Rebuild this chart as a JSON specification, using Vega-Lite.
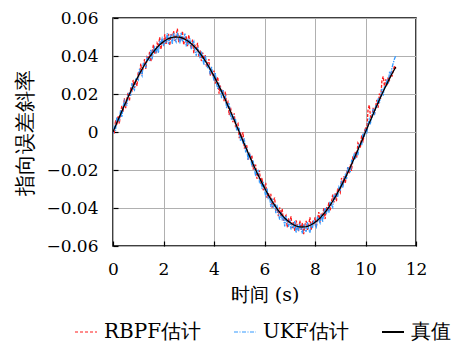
{
  "$schema": "https://vega.github.io/schema/vega-lite/v6.json",
  "width": 303,
  "height": 228,
  "autosize": "none",
  "padding": {"left": 113, "top": 18, "right": 41, "bottom": 103},
  "background": "white",
  "config": {
    "view": {"stroke": "#000000", "strokeWidth": 1.5},
    "font": "DejaVu Serif",
    "axis": {
      "labelFont": "DejaVu Serif",
      "titleFont": "DejaVu Serif",
      "labelFontSize": 17,
      "titleFontSize": 19,
      "labelColor": "#000000",
      "titleColor": "#000000",
      "titleFontWeight": "normal",
      "labelOverlap": false,
      "labelFlush": false,
      "domain": false,
      "grid": true,
      "gridColor": "#b0b0b0",
      "gridWidth": 1,
      "tickColor": "#000000",
      "tickSize": -5,
      "tickWidth": 1.2
    },
    "legend": {
      "labelFont": "DejaVu Serif",
      "labelFontSize": 20,
      "labelColor": "#000000"
    }
  },
  "data": {
    "values": [
      {"t":0.00,"truth":0,"rbpf":0.0012,"ukf":-0.0009},
      {"t":0.05,"truth":0.00157,"rbpf":-0.00093,"ukf":0.00337},
      {"t":0.10,"truth":0.00314,"rbpf":0.00624,"ukf":0.00074},
      {"t":0.15,"truth":0.00471,"rbpf":0.00391,"ukf":0.00761},
      {"t":0.20,"truth":0.00627,"rbpf":0.00847,"ukf":0.00597},
      {"t":0.25,"truth":0.00782,"rbpf":0.00442,"ukf":0.00592},
      {"t":0.30,"truth":0.00937,"rbpf":0.00997,"ukf":0.01157},
      {"t":0.35,"truth":0.01091,"rbpf":0.01381,"ukf":0.00781},
      {"t":0.40,"truth":0.01243,"rbpf":0.01073,"ukf":0.01343},
      {"t":0.45,"truth":0.01395,"rbpf":0.01775,"ukf":0.01645},
      {"t":0.50,"truth":0.01545,"rbpf":0.01255,"ukf":0.01425},
      {"t":0.55,"truth":0.01694,"rbpf":0.01734,"ukf":0.01414},
      {"t":0.60,"truth":0.01841,"rbpf":0.02101,"ukf":0.02011},
      {"t":0.65,"truth":0.01986,"rbpf":0.01626,"ukf":0.02046},
      {"t":0.70,"truth":0.02129,"rbpf":0.02279,"ukf":0.01899},
      {"t":0.75,"truth":0.02270,"rbpf":0.02180,"ukf":0.02570},
      {"t":0.80,"truth":0.02409,"rbpf":0.02739,"ukf":0.02309},
      {"t":0.85,"truth":0.02545,"rbpf":0.02325,"ukf":0.02215},
      {"t":0.90,"truth":0.02679,"rbpf":0.02769,"ukf":0.02819},
      {"t":0.95,"truth":0.02810,"rbpf":0.02420,"ukf":0.02830},
      {"t":1.00,"truth":0.02939,"rbpf":0.03179,"ukf":0.02739},
      {"t":1.05,"truth":0.03065,"rbpf":0.02955,"ukf":0.03325},
      {"t":1.10,"truth":0.03187,"rbpf":0.03607,"ukf":0.03117},
      {"t":1.15,"truth":0.03307,"rbpf":0.03037,"ukf":0.02967},
      {"t":1.20,"truth":0.03423,"rbpf":0.03453,"ukf":0.03613},
      {"t":1.25,"truth":0.03536,"rbpf":0.03836,"ukf":0.03616},
      {"t":1.30,"truth":0.03645,"rbpf":0.03325,"ukf":0.03375},
      {"t":1.35,"truth":0.03751,"rbpf":0.03931,"ukf":0.03981},
      {"t":1.40,"truth":0.03853,"rbpf":0.03803,"ukf":0.03813},
      {"t":1.45,"truth":0.03951,"rbpf":0.04221,"ukf":0.03771},
      {"t":1.50,"truth":0.04045,"rbpf":0.03695,"ukf":0.04325},
      {"t":1.55,"truth":0.04135,"rbpf":0.04245,"ukf":0.03815},
      {"t":1.60,"truth":0.04222,"rbpf":0.04582,"ukf":0.04312},
      {"t":1.65,"truth":0.04304,"rbpf":0.04164,"ukf":0.04464},
      {"t":1.70,"truth":0.04382,"rbpf":0.04102,"ukf":0.04132},
      {"t":1.75,"truth":0.04455,"rbpf":0.04665,"ukf":0.04505},
      {"t":1.80,"truth":0.04524,"rbpf":0.04504,"ukf":0.04164},
      {"t":1.85,"truth":0.04589,"rbpf":0.04989,"ukf":0.04789},
      {"t":1.90,"truth":0.04649,"rbpf":0.04349,"ukf":0.04589},
      {"t":1.95,"truth":0.04704,"rbpf":0.04844,"ukf":0.05014},
      {"t":2.00,"truth":0.04755,"rbpf":0.04565,"ukf":0.04515},
      {"t":2.05,"truth":0.04801,"rbpf":0.05141,"ukf":0.04871},
      {"t":2.10,"truth":0.04843,"rbpf":0.04603,"ukf":0.04693},
      {"t":2.15,"truth":0.04880,"rbpf":0.04950,"ukf":0.05210},
      {"t":2.20,"truth":0.04911,"rbpf":0.05161,"ukf":0.04621},
      {"t":2.25,"truth":0.04938,"rbpf":0.04558,"ukf":0.04968},
      {"t":2.30,"truth":0.04961,"rbpf":0.05151,"ukf":0.05081},
      {"t":2.35,"truth":0.04978,"rbpf":0.04918,"ukf":0.04628},
      {"t":2.40,"truth":0.04990,"rbpf":0.05310,"ukf":0.05210},
      {"t":2.45,"truth":0.04998,"rbpf":0.04788,"ukf":0.04888},
      {"t":2.50,"truth":0.05000,"rbpf":0.05080,"ukf":0.04740},
      {"t":2.55,"truth":0.04998,"rbpf":0.05438,"ukf":0.05178},
      {"t":2.60,"truth":0.04990,"rbpf":0.04730,"ukf":0.05050},
      {"t":2.65,"truth":0.04978,"rbpf":0.05078,"ukf":0.04668},
      {"t":2.70,"truth":0.04961,"rbpf":0.04811,"ukf":0.05221},
      {"t":2.75,"truth":0.04938,"rbpf":0.05308,"ukf":0.04808},
      {"t":2.80,"truth":0.04911,"rbpf":0.04581,"ukf":0.04891},
      {"t":2.85,"truth":0.04880,"rbpf":0.04930,"ukf":0.05180},
      {"t":2.90,"truth":0.04843,"rbpf":0.05043,"ukf":0.04503},
      {"t":2.95,"truth":0.04801,"rbpf":0.04511,"ukf":0.04901},
      {"t":3.00,"truth":0.04755,"rbpf":0.05105,"ukf":0.04585},
      {"t":3.05,"truth":0.04704,"rbpf":0.04634,"ukf":0.04914},
      {"t":3.10,"truth":0.04649,"rbpf":0.04419,"ukf":0.04359},
      {"t":3.15,"truth":0.04589,"rbpf":0.04869,"ukf":0.04669},
      {"t":3.20,"truth":0.04524,"rbpf":0.04154,"ukf":0.04774},
      {"t":3.25,"truth":0.04455,"rbpf":0.04585,"ukf":0.04245},
      {"t":3.30,"truth":0.04382,"rbpf":0.04402,"ukf":0.04012},
      {"t":3.35,"truth":0.04304,"rbpf":0.04694,"ukf":0.04454},
      {"t":3.40,"truth":0.04222,"rbpf":0.03972,"ukf":0.04232},
      {"t":3.45,"truth":0.04135,"rbpf":0.04295,"ukf":0.03875},
      {"t":3.50,"truth":0.04045,"rbpf":0.03735,"ukf":0.04245},
      {"t":3.55,"truth":0.03951,"rbpf":0.04181,"ukf":0.03871},
      {"t":3.60,"truth":0.03853,"rbpf":0.03813,"ukf":0.03533},
      {"t":3.65,"truth":0.03751,"rbpf":0.04061,"ukf":0.04021},
      {"t":3.70,"truth":0.03645,"rbpf":0.03445,"ukf":0.03695},
      {"t":3.75,"truth":0.03536,"rbpf":0.03626,"ukf":0.03346},
      {"t":3.80,"truth":0.03423,"rbpf":0.03833,"ukf":0.03553},
      {"t":3.85,"truth":0.03307,"rbpf":0.02967,"ukf":0.03007},
      {"t":3.90,"truth":0.03187,"rbpf":0.03307,"ukf":0.03427},
      {"t":3.95,"truth":0.03065,"rbpf":0.02935,"ukf":0.03015},
      {"t":4.00,"truth":0.02939,"rbpf":0.03229,"ukf":0.02709},
      {"t":4.05,"truth":0.02810,"rbpf":0.02550,"ukf":0.03130},
      {"t":4.10,"truth":0.02679,"rbpf":0.02739,"ukf":0.02539},
      {"t":4.15,"truth":0.02545,"rbpf":0.02895,"ukf":0.02265},
      {"t":4.20,"truth":0.02409,"rbpf":0.02019,"ukf":0.02519},
      {"t":4.25,"truth":0.02270,"rbpf":0.02440,"ukf":0.02310},
      {"t":4.30,"truth":0.02129,"rbpf":0.02049,"ukf":0.01779},
      {"t":4.35,"truth":0.01986,"rbpf":0.02246,"ukf":0.02236},
      {"t":4.40,"truth":0.01841,"rbpf":0.01621,"ukf":0.01721},
      {"t":4.45,"truth":0.01694,"rbpf":0.02124,"ukf":0.01864},
      {"t":4.50,"truth":0.01545,"rbpf":0.01445,"ukf":0.01255},
      {"t":4.55,"truth":0.01395,"rbpf":0.01585,"ukf":0.01485},
      {"t":4.60,"truth":0.01243,"rbpf":0.00893,"ukf":0.01523},
      {"t":4.65,"truth":0.01091,"rbpf":0.01311,"ukf":0.00911},
      {"t":4.70,"truth":0.00937,"rbpf":0.00977,"ukf":0.00627},
      {"t":4.75,"truth":0.00782,"rbpf":0.00512,"ukf":0.00942},
      {"t":4.80,"truth":0.00627,"rbpf":0.00987,"ukf":0.00597},
      {"t":4.85,"truth":0.00471,"rbpf":0.00311,"ukf":0.00701},
      {"t":4.90,"truth":0.00314,"rbpf":0.00394,"ukf":0.00054},
      {"t":4.95,"truth":0.00157,"rbpf":0.00457,"ukf":0.00217},
      {"t":5.00,"truth":0,"rbpf":-0.00320,"ukf":0.00190},
      {"t":5.05,"truth":-0.00157,"rbpf":-0.00007,"ukf":-0.00487},
      {"t":5.10,"truth":-0.00314,"rbpf":-0.00344,"ukf":-0.00234},
      {"t":5.15,"truth":-0.00471,"rbpf":-0.00011,"ukf":-0.00631},
      {"t":5.20,"truth":-0.00627,"rbpf":-0.00867,"ukf":-0.00337},
      {"t":5.25,"truth":-0.00782,"rbpf":-0.00712,"ukf":-0.01022},
      {"t":5.30,"truth":-0.00937,"rbpf":-0.00727,"ukf":-0.00917},
      {"t":5.35,"truth":-0.01091,"rbpf":-0.01451,"ukf":-0.01471},
      {"t":5.40,"truth":-0.01243,"rbpf":-0.01063,"ukf":-0.01093},
      {"t":5.45,"truth":-0.01395,"rbpf":-0.01485,"ukf":-0.01325},
      {"t":5.50,"truth":-0.01545,"rbpf":-0.01215,"ukf":-0.01815},
      {"t":5.55,"truth":-0.01694,"rbpf":-0.01974,"ukf":-0.01494},
      {"t":5.60,"truth":-0.01841,"rbpf":-0.01741,"ukf":-0.01951},
      {"t":5.65,"truth":-0.01986,"rbpf":-0.01746,"ukf":-0.02326},
      {"t":5.70,"truth":-0.02129,"rbpf":-0.02459,"ukf":-0.02009},
      {"t":5.75,"truth":-0.02270,"rbpf":-0.02250,"ukf":-0.02010},
      {"t":5.80,"truth":-0.02409,"rbpf":-0.02029,"ukf":-0.02629},
      {"t":5.85,"truth":-0.02545,"rbpf":-0.02725,"ukf":-0.02505},
      {"t":5.90,"truth":-0.02679,"rbpf":-0.02409,"ukf":-0.02979},
      {"t":5.95,"truth":-0.02810,"rbpf":-0.03060,"ukf":-0.02630},
      {"t":6.00,"truth":-0.02939,"rbpf":-0.02889,"ukf":-0.03029},
      {"t":6.05,"truth":-0.03065,"rbpf":-0.02675,"ukf":-0.03425},
      {"t":6.10,"truth":-0.03187,"rbpf":-0.03477,"ukf":-0.02957},
      {"t":6.15,"truth":-0.03307,"rbpf":-0.03177,"ukf":-0.03477},
      {"t":6.20,"truth":-0.03423,"rbpf":-0.03483,"ukf":-0.03363},
      {"t":6.25,"truth":-0.03536,"rbpf":-0.03256,"ukf":-0.03946},
      {"t":6.30,"truth":-0.03645,"rbpf":-0.03985,"ukf":-0.03505},
      {"t":6.35,"truth":-0.03751,"rbpf":-0.03641,"ukf":-0.03981},
      {"t":6.40,"truth":-0.03853,"rbpf":-0.03453,"ukf":-0.03763},
      {"t":6.45,"truth":-0.03951,"rbpf":-0.04151,"ukf":-0.04271},
      {"t":6.50,"truth":-0.04045,"rbpf":-0.03955,"ukf":-0.03835},
      {"t":6.55,"truth":-0.04135,"rbpf":-0.04435,"ukf":-0.04285},
      {"t":6.60,"truth":-0.04222,"rbpf":-0.03972,"ukf":-0.04612},
      {"t":6.65,"truth":-0.04304,"rbpf":-0.04424,"ukf":-0.04204},
      {"t":6.70,"truth":-0.04382,"rbpf":-0.04042,"ukf":-0.04582},
      {"t":6.75,"truth":-0.04455,"rbpf":-0.04715,"ukf":-0.04425},
      {"t":6.80,"truth":-0.04524,"rbpf":-0.04494,"ukf":-0.04964},
      {"t":6.85,"truth":-0.04589,"rbpf":-0.04389,"ukf":-0.04419},
      {"t":6.90,"truth":-0.04649,"rbpf":-0.05019,"ukf":-0.04779},
      {"t":6.95,"truth":-0.04704,"rbpf":-0.04544,"ukf":-0.04984},
      {"t":7.00,"truth":-0.04755,"rbpf":-0.04795,"ukf":-0.04605},
      {"t":7.05,"truth":-0.04801,"rbpf":-0.04441,"ukf":-0.05131},
      {"t":7.10,"truth":-0.04843,"rbpf":-0.05063,"ukf":-0.04803},
      {"t":7.15,"truth":-0.04880,"rbpf":-0.04740,"ukf":-0.05070},
      {"t":7.20,"truth":-0.04911,"rbpf":-0.05221,"ukf":-0.04671},
      {"t":7.25,"truth":-0.04938,"rbpf":-0.04648,"ukf":-0.05308},
      {"t":7.30,"truth":-0.04961,"rbpf":-0.04901,"ukf":-0.04891},
      {"t":7.35,"truth":-0.04978,"rbpf":-0.05218,"ukf":-0.05228},
      {"t":7.40,"truth":-0.04990,"rbpf":-0.04660,"ukf":-0.04810},
      {"t":7.45,"truth":-0.04998,"rbpf":-0.05148,"ukf":-0.05098},
      {"t":7.50,"truth":-0.05000,"rbpf":-0.04780,"ukf":-0.05340},
      {"t":7.55,"truth":-0.04998,"rbpf":-0.05378,"ukf":-0.04868},
      {"t":7.60,"truth":-0.04990,"rbpf":-0.04890,"ukf":-0.05050},
      {"t":7.65,"truth":-0.04978,"rbpf":-0.04678,"ukf":-0.05248},
      {"t":7.70,"truth":-0.04961,"rbpf":-0.05151,"ukf":-0.04741},
      {"t":7.75,"truth":-0.04938,"rbpf":-0.04898,"ukf":-0.05118},
      {"t":7.80,"truth":-0.04911,"rbpf":-0.04491,"ukf":-0.05301},
      {"t":7.85,"truth":-0.04880,"rbpf":-0.05160,"ukf":-0.04790},
      {"t":7.90,"truth":-0.04843,"rbpf":-0.04673,"ukf":-0.05053},
      {"t":7.95,"truth":-0.04801,"rbpf":-0.04881,"ukf":-0.04641},
      {"t":8.00,"truth":-0.04755,"rbpf":-0.04495,"ukf":-0.04875},
      {"t":8.05,"truth":-0.04704,"rbpf":-0.05024,"ukf":-0.05004},
      {"t":8.10,"truth":-0.04649,"rbpf":-0.04569,"ukf":-0.04449},
      {"t":8.15,"truth":-0.04589,"rbpf":-0.04219,"ukf":-0.04639},
      {"t":8.20,"truth":-0.04524,"rbpf":-0.04754,"ukf":-0.04784},
      {"t":8.25,"truth":-0.04455,"rbpf":-0.04335,"ukf":-0.04315},
      {"t":8.30,"truth":-0.04382,"rbpf":-0.04432,"ukf":-0.04732},
      {"t":8.35,"truth":-0.04304,"rbpf":-0.03994,"ukf":-0.04244},
      {"t":8.40,"truth":-0.04222,"rbpf":-0.04582,"ukf":-0.03992},
      {"t":8.45,"truth":-0.04135,"rbpf":-0.03935,"ukf":-0.04325},
      {"t":8.50,"truth":-0.04045,"rbpf":-0.04155,"ukf":-0.03965},
      {"t":8.55,"truth":-0.03951,"rbpf":-0.03681,"ukf":-0.04241},
      {"t":8.60,"truth":-0.03853,"rbpf":-0.04143,"ukf":-0.03663},
      {"t":8.65,"truth":-0.03751,"rbpf":-0.03691,"ukf":-0.03821},
      {"t":8.70,"truth":-0.03645,"rbpf":-0.03295,"ukf":-0.03955},
      {"t":8.75,"truth":-0.03536,"rbpf":-0.03706,"ukf":-0.03296},
      {"t":8.80,"truth":-0.03423,"rbpf":-0.03233,"ukf":-0.03553},
      {"t":8.85,"truth":-0.03307,"rbpf":-0.03637,"ukf":-0.03257},
      {"t":8.90,"truth":-0.03187,"rbpf":-0.02947,"ukf":-0.03427},
      {"t":8.95,"truth":-0.03065,"rbpf":-0.03055,"ukf":-0.02895},
      {"t":9.00,"truth":-0.02939,"rbpf":-0.03189,"ukf":-0.03029},
      {"t":9.05,"truth":-0.02810,"rbpf":-0.02420,"ukf":-0.02550},
      {"t":9.10,"truth":-0.02679,"rbpf":-0.02809,"ukf":-0.02949},
      {"t":9.15,"truth":-0.02545,"rbpf":-0.02325,"ukf":-0.02505},
      {"t":9.20,"truth":-0.02409,"rbpf":-0.02709,"ukf":-0.02259},
      {"t":9.25,"truth":-0.02270,"rbpf":-0.02190,"ukf":-0.02470},
      {"t":9.30,"truth":-0.02129,"rbpf":-0.01849,"ukf":-0.01829},
      {"t":9.35,"truth":-0.01986,"rbpf":-0.02196,"ukf":-0.02096},
      {"t":9.40,"truth":-0.01841,"rbpf":-0.01701,"ukf":-0.02091},
      {"t":9.45,"truth":-0.01694,"rbpf":-0.02044,"ukf":-0.01504},
      {"t":9.50,"truth":-0.01545,"rbpf":-0.01245,"ukf":-0.01585},
      {"t":9.55,"truth":-0.01395,"rbpf":-0.01465,"ukf":-0.01125},
      {"t":9.60,"truth":-0.01243,"rbpf":-0.01043,"ukf":-0.01433},
      {"t":9.65,"truth":-0.01091,"rbpf":-0.01351,"ukf":-0.01031},
      {"t":9.70,"truth":-0.00937,"rbpf":-0.00577,"ukf":-0.01217},
      {"t":9.75,"truth":-0.00782,"rbpf":-0.00672,"ukf":-0.00642},
      {"t":9.80,"truth":-0.00627,"rbpf":-0.00767,"ukf":-0.00597},
      {"t":9.85,"truth":-0.00471,"rbpf":-0.00151,"ukf":-0.00691},
      {"t":9.90,"truth":-0.00314,"rbpf":-0.00544,"ukf":-0.00064},
      {"t":9.95,"truth":-0.00157,"rbpf":-0.00067,"ukf":-0.00257},
      {"t":10.00,"truth":0,"rbpf":0.00250,"ukf":0.00160},
      {"t":10.05,"truth":0.00157,"rbpf":0.00047,"ukf":-0.00083},
      {"t":10.10,"truth":0.00314,"rbpf":0.01164,"ukf":0.00404},
      {"t":10.15,"truth":0.00471,"rbpf":0.01421,"ukf":0.00681},
      {"t":10.20,"truth":0.00627,"rbpf":0.00787,"ukf":0.00477},
      {"t":10.25,"truth":0.00782,"rbpf":0.00722,"ukf":0.00752},
      {"t":10.30,"truth":0.00937,"rbpf":0.01277,"ukf":0.01217},
      {"t":10.35,"truth":0.01091,"rbpf":0.00871,"ukf":0.00891},
      {"t":10.40,"truth":0.01243,"rbpf":0.01353,"ukf":0.01363},
      {"t":10.45,"truth":0.01395,"rbpf":0.01685,"ukf":0.01315},
      {"t":10.50,"truth":0.01545,"rbpf":0.01275,"ukf":0.01785},
      {"t":10.55,"truth":0.01694,"rbpf":0.02024,"ukf":0.01524},
      {"t":10.60,"truth":0.01841,"rbpf":0.01741,"ukf":0.01891},
      {"t":10.65,"truth":0.01986,"rbpf":0.02686,"ukf":0.02276},
      {"t":10.70,"truth":0.02129,"rbpf":0.02929,"ukf":0.01909},
      {"t":10.75,"truth":0.02270,"rbpf":0.02420,"ukf":0.02370},
      {"t":10.80,"truth":0.02409,"rbpf":0.02769,"ukf":0.02349},
      {"t":10.85,"truth":0.02545,"rbpf":0.02425,"ukf":0.02765},
      {"t":10.90,"truth":0.02679,"rbpf":0.02899,"ukf":0.02539},
      {"t":10.95,"truth":0.02810,"rbpf":0.02730,"ukf":0.03120},
      {"t":11.00,"truth":0.02939,"rbpf":0.03139,"ukf":0.03039},
      {"t":11.05,"truth":0.03065,"rbpf":0.02915,"ukf":0.03385},
      {"t":11.10,"truth":0.03187,"rbpf":0.03237,"ukf":0.03637},
      {"t":11.15,"truth":0.03307,"rbpf":0.03487,"ukf":0.03857},
      {"t":11.20,"truth":0.03423,"rbpf":0.03323,"ukf":0.04023}
    ]
  },
  "layer": [
    {
      "mark": {"type": "line", "strokeWidth": 1.3, "strokeDash": [3, 1.5], "clip": true},
      "encoding": {
        "x": {"field": "t", "type": "quantitative", "title": "时间 (s)",
          "scale": {"domain": [0, 12], "nice": false, "zero": false},
          "axis": {"values": [0, 2, 4, 6, 8, 10, 12], "labelPadding": 20, "titlePadding": 8, "labelFont": "DejaVu Serif", "titleFont": "DejaVu Serif", "labelFontSize": 17, "titleFontSize": 19, "labelOverlap": false, "labelFlush": false}},
        "y": {"field": "rbpf", "type": "quantitative", "title": "指向误差斜率",
          "scale": {"domain": [-0.06, 0.06], "nice": false, "zero": false},
          "axis": {"values": [-0.06, -0.04, -0.02, 0, 0.02, 0.04, 0.06], "format": ".2~f", "labelPadding": 20, "titlePadding": 10, "labelFont": "DejaVu Serif", "titleFont": "DejaVu Serif", "labelFontSize": 17, "titleFontSize": 21, "labelOverlap": false, "labelSeparation": 0, "labelFlush": false}},
        "color": {"datum": "rbpf", "type": "nominal",
          "scale": {"domain": ["rbpf", "ukf", "truth"], "range": ["#ff1a1a", "#3399ff", "#000000"]},
          "legend": {
            "title": null,
            "orient": "none",
            "direction": "horizontal",
            "gridAlign": "none",
            "legendX": -37,
            "legendY": 304,
            "symbolType": "stroke",
            "symbolSize": 484,
            "symbolStrokeWidth": 1.2,
            "labelOffset": 8,
            "columnPadding": 29,
            "labelFont": "DejaVu Serif",
            "labelFontSize": 20,
            "labelExpr": "datum.label == 'rbpf' ? 'RBPF估计' : datum.label == 'ukf' ? 'UKF估计' : '真值'",
            "encode": {
              "symbols": {
                "update": {
                  "stroke": {"signal": "datum.value == 'rbpf' ? '#ff1a1a' : datum.value == 'ukf' ? '#3399ff' : '#000000'"},
                  "strokeDash": {"signal": "datum.value == 'rbpf' ? [3, 2] : datum.value == 'ukf' ? [4, 1.5, 1, 1.5] : [1, 0]"},
                  "strokeWidth": {"signal": "datum.value == 'truth' ? 2 : 1.2"}
                }
              }
            }
          }}
      }
    },
    {
      "mark": {"type": "line", "strokeWidth": 1.3, "strokeDash": [4, 1, 1.5, 1], "clip": true},
      "encoding": {
        "x": {"field": "t", "type": "quantitative", "title": "时间 (s)",
          "axis": {"values": [0, 2, 4, 6, 8, 10, 12], "labelPadding": 20, "titlePadding": 8, "labelFont": "DejaVu Serif", "titleFont": "DejaVu Serif", "labelFontSize": 17, "titleFontSize": 19, "labelOverlap": false, "labelFlush": false}},
        "y": {"field": "ukf", "type": "quantitative", "title": "指向误差斜率",
          "axis": {"values": [-0.06, -0.04, -0.02, 0, 0.02, 0.04, 0.06], "format": ".2~f", "labelPadding": 20, "titlePadding": 10, "labelFont": "DejaVu Serif", "titleFont": "DejaVu Serif", "labelFontSize": 17, "titleFontSize": 21, "labelOverlap": false, "labelSeparation": 0, "labelFlush": false}},
        "color": {"datum": "ukf", "type": "nominal"}
      }
    },
    {
      "mark": {"type": "line", "strokeWidth": 1.3, "clip": true},
      "encoding": {
        "x": {"field": "t", "type": "quantitative", "title": "时间 (s)",
          "axis": {"values": [0, 2, 4, 6, 8, 10, 12], "labelPadding": 20, "titlePadding": 8, "labelFont": "DejaVu Serif", "titleFont": "DejaVu Serif", "labelFontSize": 17, "titleFontSize": 19, "labelOverlap": false, "labelFlush": false}},
        "y": {"field": "truth", "type": "quantitative", "title": "指向误差斜率",
          "axis": {"values": [-0.06, -0.04, -0.02, 0, 0.02, 0.04, 0.06], "format": ".2~f", "labelPadding": 20, "titlePadding": 10, "labelFont": "DejaVu Serif", "titleFont": "DejaVu Serif", "labelFontSize": 17, "titleFontSize": 21, "labelOverlap": false, "labelSeparation": 0, "labelFlush": false}},
        "color": {"datum": "truth", "type": "nominal"}
      }
    }
  ]
}
